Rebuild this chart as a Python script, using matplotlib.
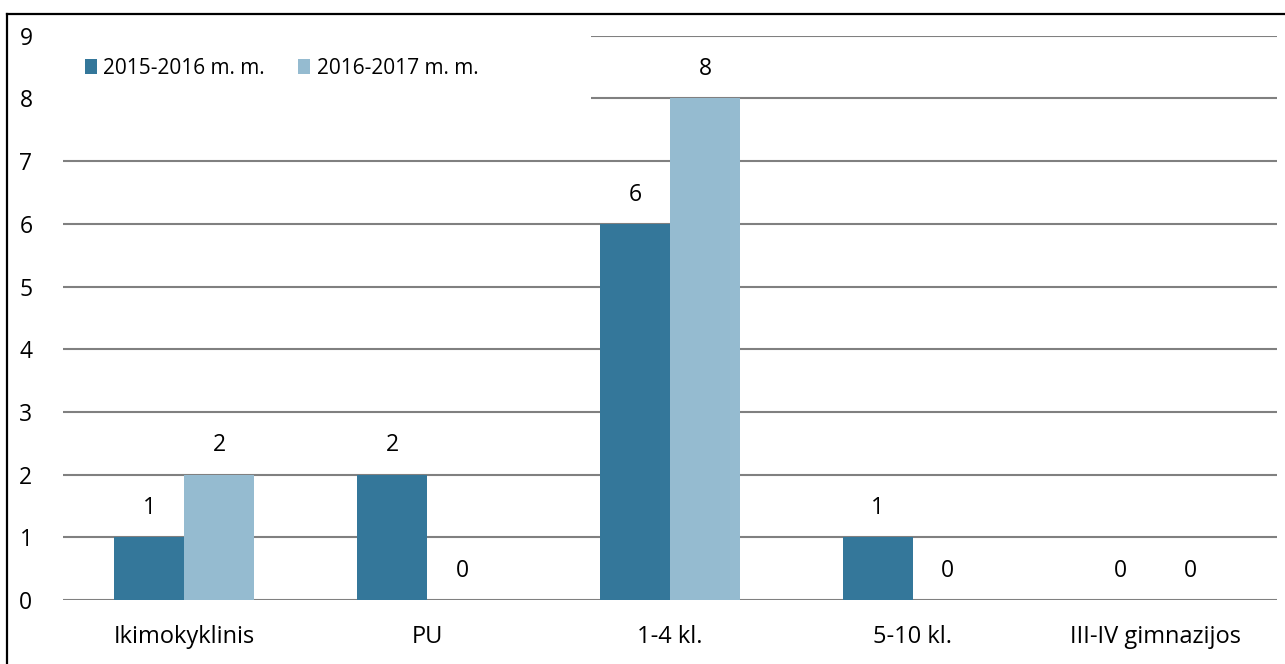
import matplotlib
matplotlib.use("Agg")
from matplotlib import pyplot as plt
from matplotlib.lines import Line2D
from matplotlib.patches import Rectangle
import numpy as np

categories = ["Ikimokyklinis", "PU", "1-4 kl.", "5-10 kl.", "III-IV gimnazijos"]
series_names = ["2015-2016 m. m.", "2016-2017 m. m."]
values_2015 = [1, 2, 6, 1, 0]
values_2016 = [2, 0, 8, 0, 0]
colors = ["#34779A", "#95BBD0"]

plt.rcParams["font.family"] = ["Open Sans", "DejaVu Sans"]
plt.rcParams["font.size"] = 16

W, H = 1285, 664
fig = plt.figure(figsize=(W / 100, H / 100), dpi=100)
ax = fig.add_axes([63 / W, 1 - 600 / H, (1277 - 63) / W, (600 - 35.7) / H])

x = np.arange(len(categories))
width = 0.288
bars1 = ax.bar(x - width / 2, values_2015, width, color=colors[0], label=series_names[0], zorder=3)
bars2 = ax.bar(x + width / 2, values_2016, width, color=colors[1], label=series_names[1], zorder=3)

for bars in (bars1, bars2):
    for b in bars:
        h = b.get_height()
        ax.annotate(str(int(h)), (b.get_x() + b.get_width() / 2, h),
                    xytext=(0, 21), textcoords="offset points",
                    ha="center", va="center", fontsize=16.5, color="black", zorder=5)

ax.set_xlim(-0.5, len(categories) - 0.5)
ax.set_ylim(0, 9)
ax.set_yticks(range(10))
ax.set_xticks(x)
ax.set_xticklabels(categories, fontsize=17)
ax.tick_params(axis="both", length=0, colors="black")
ax.tick_params(axis="y", pad=22, labelsize=16.5)
ax.tick_params(axis="x", pad=18)
for lab in ax.get_yticklabels():
    lab.set_horizontalalignment("right")
for s in ax.spines.values():
    s.set_visible(False)
ax.yaxis.grid(True, color="#808080", linewidth=1.5, zorder=0)
ax.set_axisbelow(True)

# white box behind legend hides the top gridlines
ax.add_patch(Rectangle((0, 0.875), 0.435, 0.14, transform=ax.transAxes,
                       facecolor="white", edgecolor="none", zorder=4, clip_on=False))

leg = fig.legend(loc="center left", bbox_to_anchor=(85 / W, 1 - 68 / H), ncol=2,
                 frameon=False, fontsize=15, handlelength=0.58, handleheight=0.72,
                 handletextpad=0.3, columnspacing=1.6, borderpad=0, borderaxespad=0)
leg.set_zorder(6)

# chart border (top and left visible)
fig.add_artist(Line2D([7 / W, 1], [1 - 13.5 / H, 1 - 13.5 / H], color="black", linewidth=1.6))
fig.add_artist(Line2D([7 / W, 7 / W], [0, 1 - 13.5 / H], color="black", linewidth=1.6))

fig.savefig("out.png", dpi=100)
